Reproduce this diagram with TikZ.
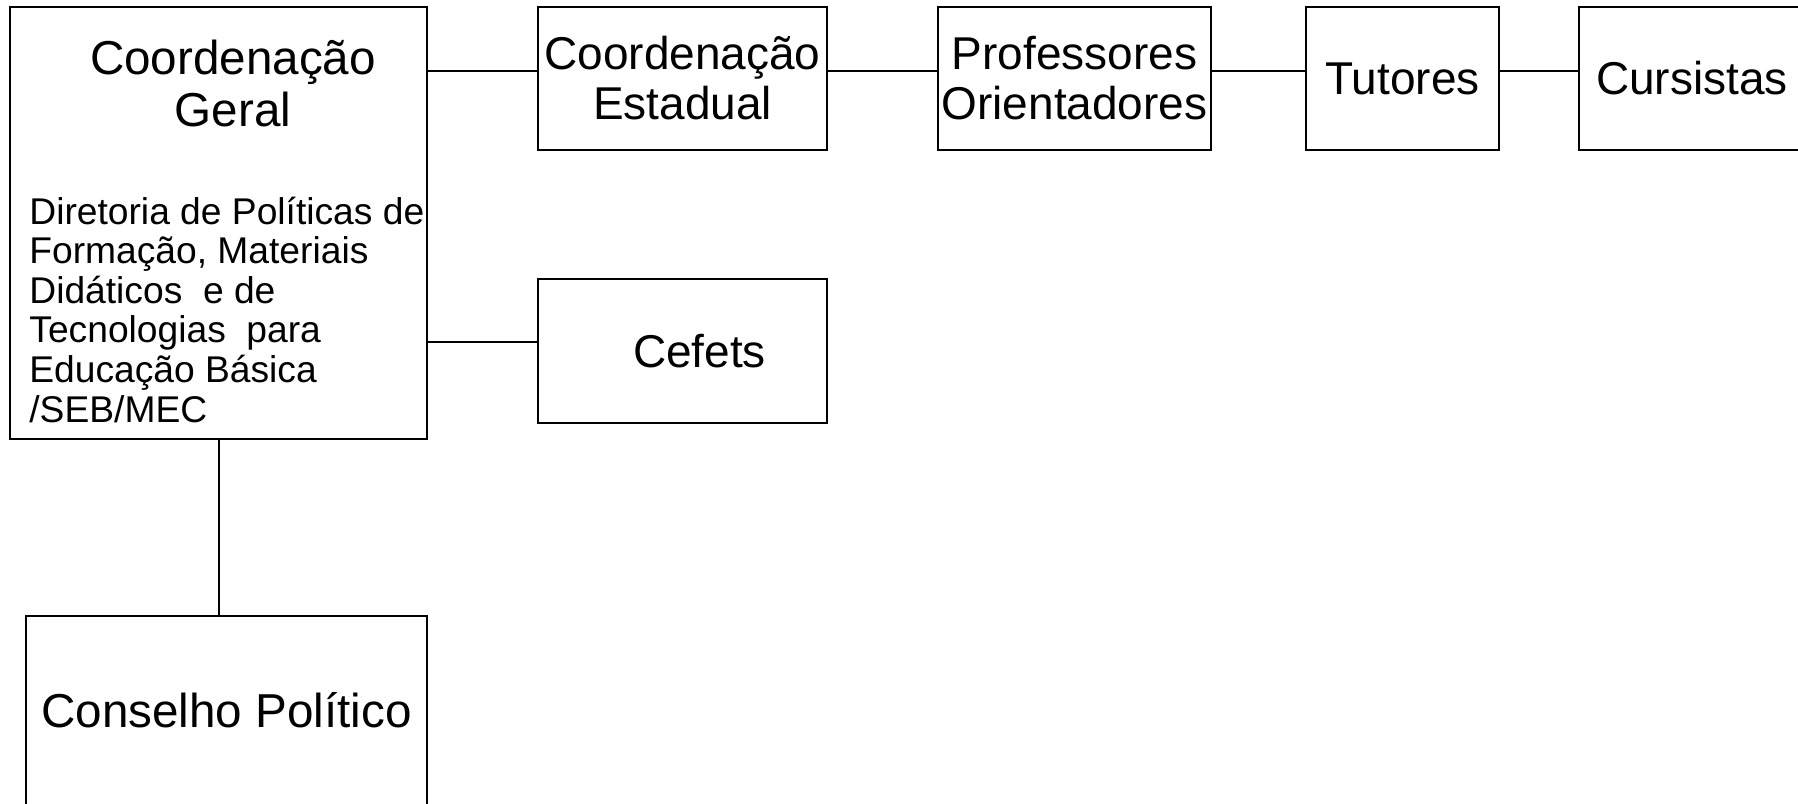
\documentclass[tikz,border=0pt]{standalone}
\usepackage{fontspec}
\setmainfont{Liberation Sans}
\newcommand{\bigfs}{\fontsize{23}{25}\selectfont}
\newcommand{\largefs}{\fontsize{23.8}{26}\selectfont}
\newcommand{\smallfs}{\fontsize{18.6}{19.8}\selectfont}
\begin{document}
\begin{tikzpicture}[x=0.5pt, y=-0.5pt]
% Org chart boxes
\tikzstyle{org_box} = [rectangle, draw, line width=1pt, inner sep=0pt, align=center, font=\bigfs]
\tikzstyle{link} = [line width=1pt]

\useasboundingbox (0,0) rectangle (1798,803);
\clip (0,0) rectangle (1798,803);

% Coordenacao geral
\node[org_box, minimum width=208.5pt, minimum height=216pt] (cgeral) at (218.5,223) {};
\node[anchor=base, align=center, font=\largefs, inner sep=0pt] (cgtitle) at (233,126) {Coordenação\\Geral};
\node[anchor=base west, align=left, font=\smallfs, inner sep=0pt] (cgdir) at (29,422) {
    Diretoria de Políticas de\\
    Formação, Materiais\\
    Didáticos\ \ e de\\
    Tecnologias\ \ para\\
    Educação Básica\\
    /SEB/MEC
};

% Top row
\node[org_box, minimum width=144.5pt, minimum height=71.5pt] (coordest) at (682.5,78.5) {Coordenação\\Estadual};
\node[org_box, minimum width=136.5pt, minimum height=71.5pt] (prof) at (1074.5,78.5) {Professores\\Orientadores};
\node[org_box, minimum width=96.5pt, minimum height=71.5pt] (tutores) at (1402.5,78.5) {Tutores};
\node[org_box, minimum width=113pt, minimum height=71.5pt] (cursistas) at (1692,78.5) {Cursistas};

% Cefets
\node[org_box, minimum width=144.5pt, minimum height=72pt] (cefets) at (682.5,351) {\hspace*{17pt}Cefets};

% Conselho politico
\node[org_box, anchor=north, minimum width=200.5pt, font=\largefs, text height=55.5pt, text depth=50pt] (consel) at (226.5,615) {Conselho Político};

% Connections
\draw[link] ([yshift=3.75pt]coordest.west) -- ([yshift=3.75pt]coordest.west -| cgeral.east);
\foreach \a/\b in {coordest/prof, prof/tutores, tutores/cursistas} {
    \draw[link] ([yshift=3.75pt]\a.east) -- ([yshift=3.75pt]\b.west);
}
\draw[link] ([yshift=4.5pt]cefets.west) -- ([yshift=4.5pt]cefets.west -| cgeral.east);
\draw[link] (cgeral.south) -- (cgeral.south |- consel.north);
\end{tikzpicture}
\end{document}
